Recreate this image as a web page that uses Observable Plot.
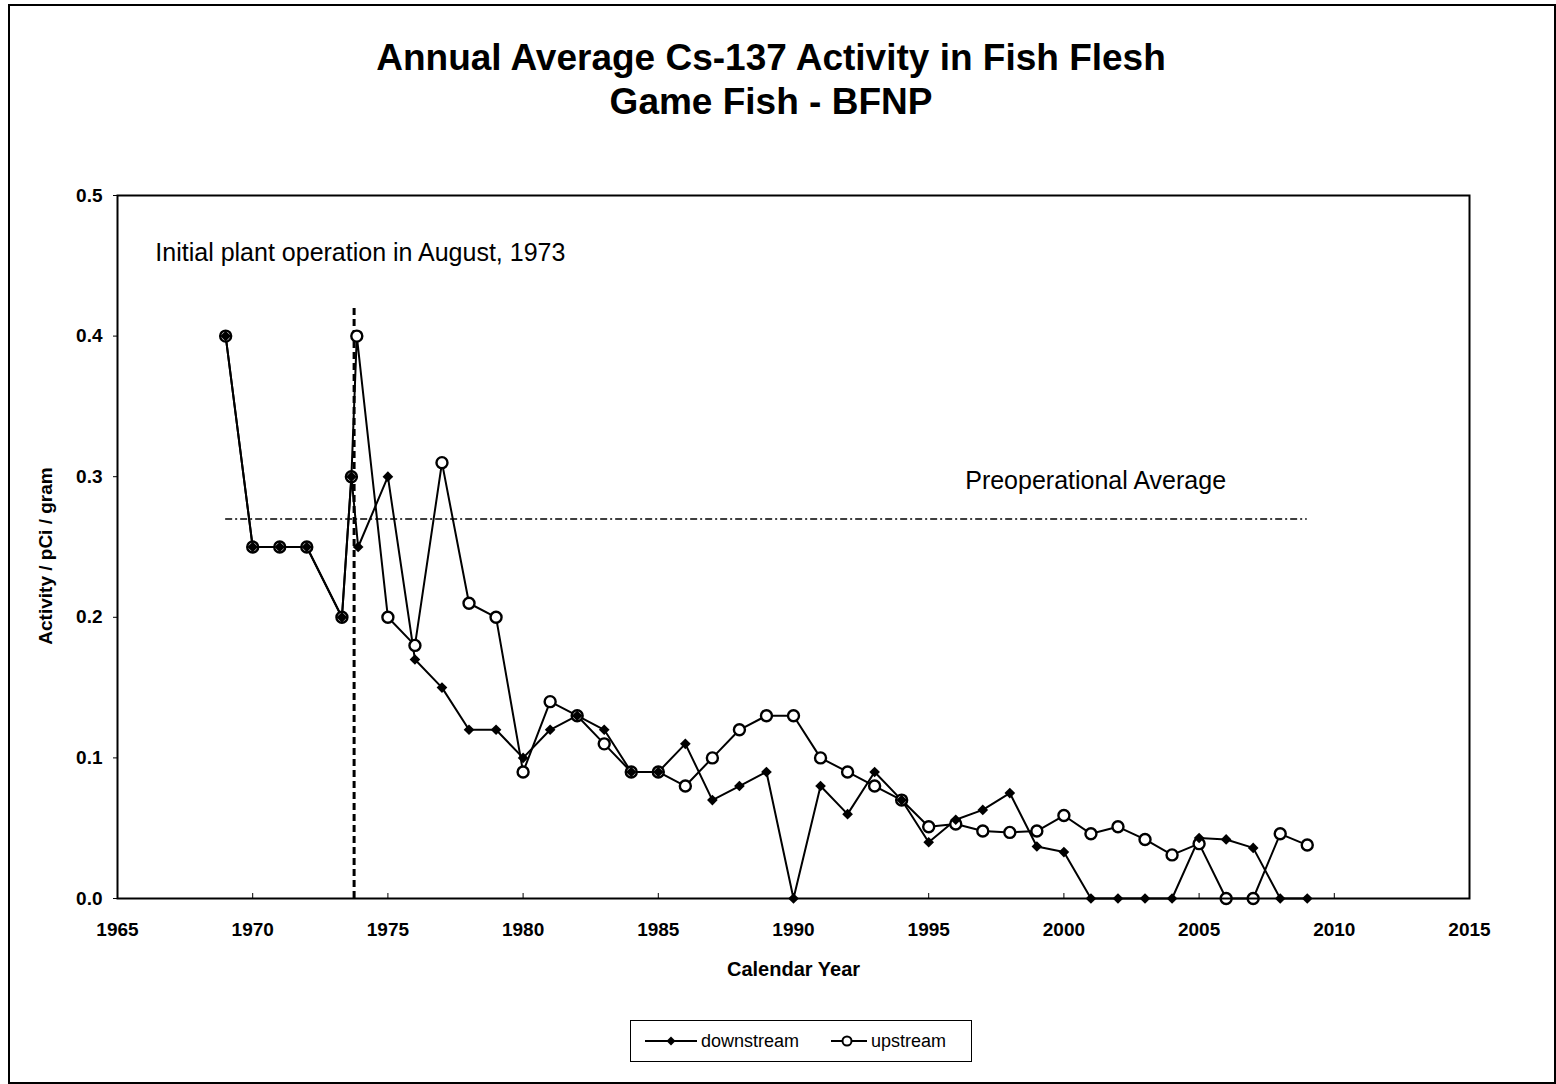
<!DOCTYPE html>
<html>
<head>
<meta charset="utf-8">
<script src="https://cdn.jsdelivr.net/npm/d3@7"></script>
<script src="https://cdn.jsdelivr.net/npm/@observablehq/plot@0.6"></script>
<style>
  body { margin: 0; background: #fff; }
  #wrap { position: relative; width: 1556px; height: 1084px; overflow: hidden; background: #fff; font-family: "Liberation Sans", Arial, sans-serif; }
  #border { position: absolute; left: 8px; top: 4px; width: 1544px; height: 1076px; border: 2px solid #000; }
  #title { position: absolute; left: 0; top: 36px; width: 1542px; text-align: center; font-weight: bold; font-size: 37px; line-height: 44px; color: #000; }
  #chart { position: absolute; left: 0; top: 160px; }
  #legend { position: absolute; left: 630px; top: 1020px; width: 340px; height: 40px; border: 1.5px solid #000; display: flex; align-items: center; font-size: 18px; color: #000; }
  .item { display: flex; align-items: center; }
  g[aria-label="xlabel"] text { letter-spacing: 1.5px; }
</style>
</head>
<body>
<div id="wrap">
  <div id="border"></div>
  <div id="title">Annual Average Cs-137 Activity in Fish Flesh<br>Game Fish - BFNP</div>
  <div id="chart"></div>
  <div id="legend">
    <div class="item" style="margin-left:12px">
      <svg width="56" height="14"><line x1="2" y1="7" x2="54" y2="7" stroke="#000" stroke-width="2"/><path d="M28,2.5 L32.5,7 L28,11.5 L23.5,7 Z" fill="#000"/></svg>
      <span style="margin-left:2px">downstream</span>
    </div>
    <div class="item" style="margin-left:30px">
      <svg width="40" height="14"><line x1="2" y1="7" x2="38" y2="7" stroke="#000" stroke-width="2"/><circle cx="18" cy="7" r="4.5" fill="#fff" stroke="#000" stroke-width="2"/></svg>
      <span style="margin-left:2px">upstream</span>
    </div>
  </div>
</div>
<script>
// ---- data ----
const downYears = [1969, 1970, 1971, 1972, 1973.3, 1973.65, 1973.9,
  1975, 1976, 1977, 1978, 1979, 1980, 1981, 1982, 1983, 1984, 1985, 1986, 1987, 1988, 1989,
  1990, 1991, 1992, 1993, 1994, 1995, 1996, 1997, 1998, 1999, 2000, 2001, 2002, 2003, 2004,
  2005, 2006, 2007, 2008, 2009];
const downValues = [0.40, 0.25, 0.25, 0.25, 0.20, 0.30, 0.25,
  0.30, 0.17, 0.15, 0.12, 0.12, 0.10, 0.12, 0.13, 0.12, 0.09, 0.09, 0.11, 0.07, 0.08, 0.09,
  0.00, 0.08, 0.06, 0.09, 0.07, 0.04, 0.056, 0.063, 0.075, 0.037, 0.033, 0.00, 0.00, 0.00, 0.00,
  0.043, 0.042, 0.036, 0.00, 0.00];
const upYears = [1969, 1970, 1971, 1972, 1973.3, 1973.65, 1973.85,
  1975, 1976, 1977, 1978, 1979, 1980, 1981, 1982, 1983, 1984, 1985, 1986, 1987, 1988, 1989,
  1990, 1991, 1992, 1993, 1994, 1995, 1996, 1997, 1998, 1999, 2000, 2001, 2002, 2003, 2004,
  2005, 2006, 2007, 2008, 2009];
const upValues = [0.40, 0.25, 0.25, 0.25, 0.20, 0.30, 0.40,
  0.20, 0.18, 0.31, 0.21, 0.20, 0.09, 0.14, 0.13, 0.11, 0.09, 0.09, 0.08, 0.10, 0.12, 0.13,
  0.13, 0.10, 0.09, 0.08, 0.07, 0.051, 0.053, 0.048, 0.047, 0.048, 0.059, 0.046, 0.051, 0.042, 0.031,
  0.039, 0.00, 0.00, 0.046, 0.038];
const preopAverage = [0.27];
const preopSpan = [1969, 2009];
const operationStart = [1973.75];
const operationLineTop = 0.42;
const xTicks = [1965, 1970, 1975, 1980, 1985, 1990, 1995, 2000, 2005, 2010, 2015];
const yTicks = [0, 0.1, 0.2, 0.3, 0.4, 0.5];
const notes = [
  {year: 1966.4, value: 0.459, text: "Initial plant operation in August, 1973"},
  {year: 1996.35, value: 0.297, text: "Preoperational Average"}
];

const down = downYears.map((y, i) => ({year: y, value: downValues[i]}));
const up = upYears.map((y, i) => ({year: y, value: upValues[i]}));

const chart = Plot.plot({
  width: 1556,
  height: 850,
  marginLeft: 117,
  marginRight: 87,
  marginTop: 35,
  marginBottom: 112,
  style: {fontFamily: "Liberation Sans, Arial, sans-serif", fontSize: "19px", fontWeight: "bold", color: "#000", background: "transparent"},
  x: {domain: [1965, 2015]},
  y: {domain: [0, 0.5]},
  marks: [
    Plot.ruleY(preopAverage, {y: d => d, x1: preopSpan[0], x2: preopSpan[1], stroke: "#000", strokeWidth: 1.5, strokeDasharray: "7,3,2,3"}),
    Plot.ruleX(operationStart, {x: d => d, y1: 0, y2: operationLineTop, stroke: "#000", strokeWidth: 3, strokeDasharray: "7,4"}),
    Plot.line(up, {x: "year", y: "value", stroke: "#000", strokeWidth: 2}),
    Plot.line(down, {x: "year", y: "value", stroke: "#000", strokeWidth: 2}),
    Plot.dot(up, {x: "year", y: "value", symbol: "circle", r: 5.5, fill: "#fff", stroke: "#000", strokeWidth: 2.4}),
    Plot.dot(down, {x: "year", y: "value", symbol: "diamond2", r: 4.8, fill: "#000"}),
    Plot.text(notes, {x: "year", y: "value", text: "text", textAnchor: "start", fontSize: 25, fontWeight: "normal", fill: "#000"}),
    Plot.frame({stroke: "#000", strokeWidth: 2}),
    Plot.axisX({ticks: xTicks, tickFormat: d => String(d), tickSize: -5, tickPadding: 29, label: null, fontSize: 19}),
    Plot.axisY({ticks: yTicks, tickFormat: d3.format(".1f"), tickSize: 4, tickPadding: 11, label: null, fontSize: 19}),
    Plot.text(["Calendar Year"], {frameAnchor: "bottom", dy: 77, fontSize: 20, fontWeight: "bold", fill: "#000", ariaLabel: "xlabel"}),
    Plot.text(["Activity / pCi / gram"], {frameAnchor: "left", dx: -72, dy: 9, rotate: -90, textAnchor: "middle", fontSize: 19, fontWeight: "bold", fill: "#000"})
  ]
});
document.getElementById("chart").appendChild(chart);
</script>
</body>
</html>
